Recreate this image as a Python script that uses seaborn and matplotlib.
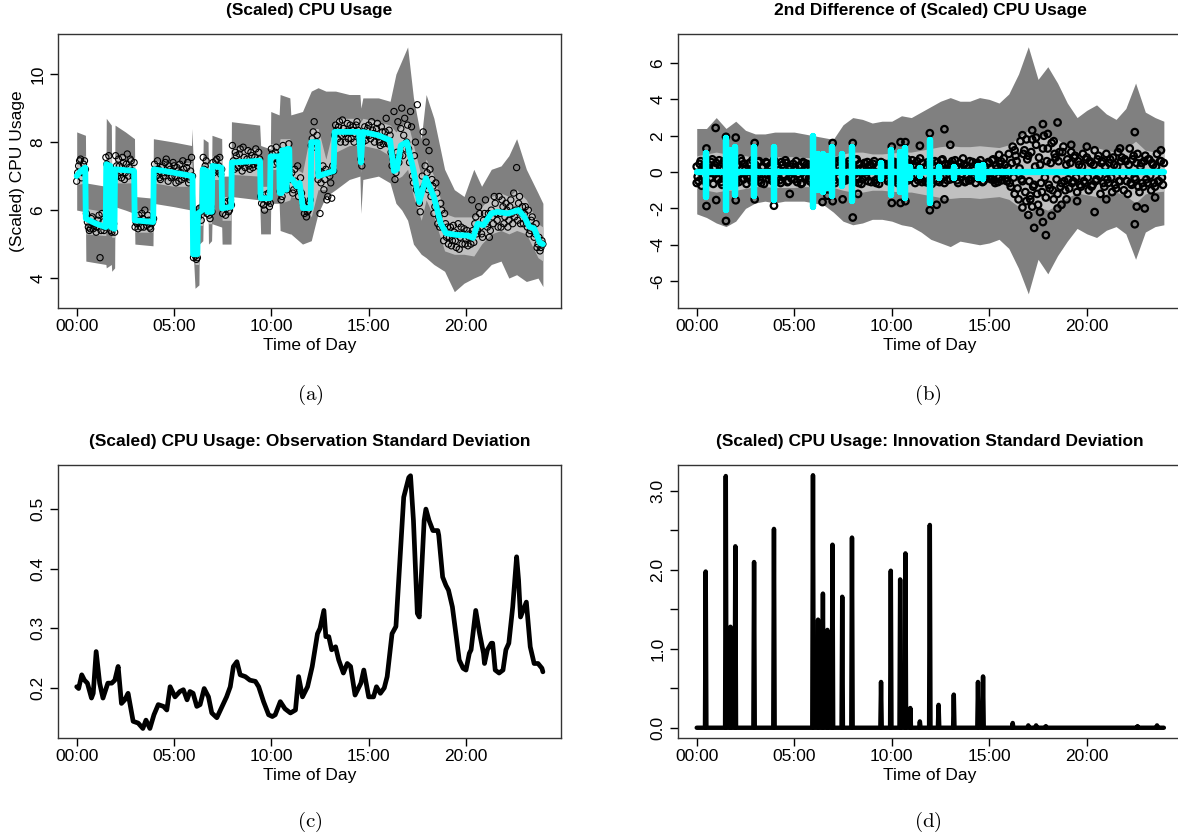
import numpy as np
import pandas as pd
import matplotlib
matplotlib.use("Agg")
import matplotlib.pyplot as plt
import seaborn as sns

# ---------------- (a) scaled CPU usage ----------------
obs_step = 0.1  # hours between plotted observations
# observations at 0.0, 0.1, 0.2, ...
cpu_obs = [
    6.85, 7.30, 7.50, 7.10, 7.45, 5.90, 5.50, 5.45, 5.80, 5.55,
    5.35, 5.70, 4.60, 5.90, 5.40, 7.55, 7.30, 7.15, 5.35, 5.60,
    7.60, 7.00, 7.30, 6.95, 7.40, 7.10, 7.65, 7.25, 7.45, 7.00,
    5.50, 5.60, 5.85, 5.50, 5.75, 6.00, 5.55, 5.70, 5.45, 5.65,
    7.35, 7.00, 7.20, 6.90, 7.30, 7.10, 7.50, 6.85, 7.20, 7.00,
    7.30, 6.80, 7.15, 7.35, 6.90, 7.20, 7.00, 7.40, 6.90, 7.55,
    4.60, 4.65, 4.60, 6.05, 5.70, 7.55, 7.30, 5.90, 5.85, 6.10,
    7.40, 7.20, 7.50, 7.30, 7.05, 5.90, 6.20, 6.05, 5.95, 6.30,
    7.90, 7.20, 7.60, 7.30, 7.80, 7.15, 7.55, 7.40, 7.75, 7.20,
    7.60, 7.35, 7.80, 7.30, 7.50, 6.20, 6.15, 6.45, 6.25, 6.10,
    7.80, 7.50, 7.70, 7.40, 7.60, 6.30, 7.90, 7.60, 6.60, 7.95,
    6.90, 6.50, 7.20, 6.70, 6.40, 6.95, 6.30, 5.90, 5.80, 6.00,
    6.30, 8.10, 8.60, 8.00, 6.90, 5.90, 7.10, 6.60, 7.20, 6.40,
    7.00, 6.35, 7.15, 8.50, 8.10, 8.60, 8.20, 8.40, 8.00, 8.55,
    8.30, 8.10, 8.45, 8.25, 8.60, 8.15, 7.50, 8.00, 8.45, 8.20,
    8.50, 8.10, 8.35, 8.00, 8.40, 8.15, 7.90, 8.30, 8.10, 8.70,
    7.95, 8.20, 7.30, 8.90, 7.10, 8.60, 7.60, 9.00, 8.20, 7.80,
    8.50, 7.40, 8.45, 6.80, 8.00, 9.10, 6.20, 6.60, 8.30, 7.30,
    7.10, 7.75, 6.40, 6.70, 6.10, 6.50, 5.80, 6.20, 5.50, 5.90,
    5.20, 5.00, 5.50, 5.10, 5.35, 4.90, 5.60, 5.20, 5.00, 5.45,
    5.15, 4.95, 5.30, 6.30, 5.05, 5.80, 5.40, 5.90, 5.30, 5.70,
    6.30, 5.50, 5.20, 6.00, 5.60, 6.20, 5.70, 6.40, 5.50, 6.10,
    5.80, 6.00, 5.70, 6.30, 5.60, 5.80, 7.25, 6.20, 5.60, 6.10,
    5.90, 5.70, 6.00, 5.40, 5.80, 5.20, 5.60, 5.00, 4.80, 5.10,
]
# observations at 0.05, 0.15, 0.25, ...
cpu_obs_mid = [
    7.10, 7.45, 6.95, 7.35, 7.20, 5.65, 5.40, 5.75, 5.45, 5.60,
    5.50, 5.85, 5.40, 5.65, 5.50, 7.35, 7.60, 5.40, 5.50, 5.35,
    7.30, 7.50, 7.10, 7.55, 6.90, 7.35, 7.00, 7.50, 7.15, 7.40,
    5.65, 5.45, 5.70, 5.90, 5.50, 5.65, 5.85, 5.50, 5.60, 5.75,
    7.15, 7.45, 6.95, 7.25, 7.00, 7.40, 7.10, 7.30, 6.95, 7.40,
    7.00, 7.25, 6.85, 7.10, 7.45, 6.95, 7.25, 6.80, 7.15, 7.00,
    4.70, 4.55, 5.80, 5.95, 6.10, 7.20, 7.45, 6.00, 5.75, 5.95,
    7.10, 7.45, 7.15, 7.55, 7.20, 6.10, 5.85, 6.25, 6.00, 6.15,
    7.45, 7.70, 7.25, 7.65, 7.35, 7.85, 7.25, 7.50, 7.30, 7.70,
    7.25, 7.55, 7.40, 7.70, 6.40, 6.35, 6.00, 6.30, 6.50, 6.20,
    7.65, 7.35, 7.85, 7.50, 6.55, 6.40, 7.70, 6.70, 7.70, 7.00,
    7.10, 6.60, 6.85, 7.30, 6.60, 6.50, 6.15, 6.10, 5.95, 6.20,
    7.90, 8.30, 7.85, 8.20, 7.10, 6.80, 7.30, 6.90, 6.30, 7.10,
    6.80, 7.30, 8.20, 8.35, 8.45, 8.00, 8.65, 8.25, 8.30, 8.10,
    8.50, 8.35, 8.00, 8.50, 8.35, 8.05, 7.30, 8.30, 8.05, 8.40,
    8.20, 8.60, 8.25, 8.20, 8.55, 8.00, 8.45, 7.95, 8.30, 8.00,
    8.35, 7.70, 7.50, 6.90, 7.70, 7.40, 8.40, 7.60, 8.70, 8.00,
    7.80, 8.90, 7.00, 7.60, 6.60, 6.50, 5.95, 7.00, 6.70, 8.00,
    6.60, 7.20, 6.90, 5.90, 6.80, 5.60, 5.50, 6.00, 5.10, 5.60,
    5.50, 5.20, 4.95, 5.55, 5.10, 5.30, 4.85, 5.50, 5.30, 5.00,
    5.40, 5.20, 5.00, 5.40, 5.60, 5.30, 6.10, 5.50, 5.20, 5.90,
    5.60, 5.90, 5.40, 5.80, 6.40, 5.90, 5.50, 5.90, 6.30, 5.60,
    6.20, 5.50, 6.10, 5.90, 6.50, 6.00, 5.70, 6.40, 5.90, 5.60,
    6.10, 5.50, 5.30, 5.70, 5.50, 5.30, 4.90, 5.20, 4.90, 5.00,
]

fit_hours = [0.00, 0.20, 0.44, 0.47, 1.00, 1.49, 1.52, 1.73, 1.76, 1.94, 1.97, 2.95,
             2.98, 3.93, 3.96, 5.00, 5.95, 5.98, 6.20, 6.23, 6.45, 6.48, 6.68, 6.71,
             6.94, 6.97, 7.44, 7.47, 7.94, 7.97, 9.42, 9.45, 9.93, 9.96, 10.40, 10.43,
             10.53, 10.56, 10.70, 10.73, 10.78, 10.81, 10.92, 10.95, 11.10, 11.30, 11.45,
             11.62, 12.02, 12.05, 12.38, 12.41, 13.20, 13.25, 14.50, 14.60, 14.70, 15.50,
             16.10, 16.30, 16.45, 16.65, 16.96, 17.30, 17.60, 17.94, 18.35, 18.70, 18.97,
             19.50, 20.10, 20.36, 20.60, 20.90, 21.30, 21.60, 22.15, 22.70, 23.00, 23.25,
             23.50, 23.80, 23.95]
fit_level = [7.00, 7.15, 7.25, 5.75, 5.60, 5.50, 7.35, 7.30, 5.50, 5.45, 7.20, 7.15,
             5.70, 5.65, 7.20, 7.10, 7.00, 4.70, 4.70, 5.90, 6.00, 7.20, 7.15, 5.95,
             5.95, 7.30, 7.25, 6.05, 6.10, 7.40, 7.45, 6.35, 6.35, 7.58, 7.58, 6.50,
             6.50, 7.76, 7.76, 6.60, 6.60, 7.80, 7.80, 6.90, 6.90, 6.70, 6.80,
             6.06, 6.06, 8.00, 8.00, 7.00, 7.15, 8.30, 8.30, 7.40, 8.30, 8.20,
             8.05, 7.15, 7.20, 7.90, 8.00, 7.18, 6.24, 6.94, 6.39, 5.61, 5.32,
             5.27, 5.25, 5.18, 5.60, 5.56, 5.90, 5.95, 5.90, 6.00, 5.80, 5.51,
             5.46, 5.03, 5.00]

band_hours = [0.00, 0.45, 0.47, 1.50, 1.52, 1.78, 1.80, 1.95, 1.97, 2.50, 2.97, 2.99,
              3.92, 3.94, 5.00, 5.90, 5.92, 6.08, 6.28, 6.30, 6.48, 6.50, 6.75, 6.77,
              6.93, 6.95, 7.45, 7.47, 7.93, 7.95, 9.40, 9.45, 9.95, 9.97, 10.40, 10.45,
              10.95, 11.00, 11.60, 12.05, 12.40, 12.80, 13.30, 14.00, 14.55, 14.60, 14.70,
              15.50, 16.10, 16.40, 16.70, 17.00, 17.30, 17.70, 17.95, 18.35, 18.90, 19.40,
              19.90, 20.40, 20.80, 21.30, 21.80, 22.20, 22.60, 23.10, 23.70, 23.95]
band_hi = [8.3, 8.2, 6.8, 6.7, 8.7, 8.5, 7.0, 7.0, 8.5, 8.3, 8.1, 6.4,
           6.35, 8.1, 8.0, 7.9, 8.4, 6.1, 6.2, 7.2, 7.1, 8.1, 8.0, 6.9,
           6.9, 8.2, 8.1, 7.0, 7.0, 8.6, 8.5, 7.9, 7.8, 8.9, 8.8, 9.4,
           9.3, 8.8, 8.9, 9.5, 9.6, 9.5, 9.5, 9.4, 9.4, 9.0, 9.3,
           9.3, 9.2, 10.0, 10.4, 10.8, 9.3, 8.1, 9.4, 8.7, 7.2, 6.6,
           6.4, 7.2, 6.7, 7.2, 7.3, 7.6, 8.1, 7.2, 6.5, 6.2]
band_lo = [6.0, 5.95, 4.5, 4.4, 4.3, 4.4, 4.2, 4.3, 6.1, 6.0, 5.9, 5.0,
           4.95, 6.2, 6.1, 6.0, 5.5, 3.7, 3.8, 5.0, 5.1, 5.8, 5.9, 5.0,
           5.1, 5.6, 5.5, 5.0, 5.0, 6.4, 6.3, 5.3, 5.3, 6.2, 6.2, 5.4,
           5.3, 5.3, 5.0, 5.1, 5.9, 6.4, 6.6, 6.9, 7.0, 5.9, 6.9,
           7.0, 6.8, 6.2, 6.0, 5.7, 5.0, 4.7, 4.6, 4.4, 4.2, 3.6,
           3.85, 4.0, 4.1, 4.4, 4.5, 4.0, 4.1, 3.9, 4.0, 3.75]
inner_hi = [7.5, 7.6, 6.05, 5.95, 7.65, 7.6, 5.8, 5.8, 7.6, 7.6, 7.55, 6.0,
            6.0, 7.45, 7.4, 7.4, 7.4, 5.0, 5.0, 6.2, 6.2, 7.55, 7.5, 6.3,
            6.3, 7.6, 7.55, 6.4, 6.4, 7.85, 7.8, 6.7, 6.7, 7.95, 7.95, 8.1,
            8.1, 7.3, 7.1, 8.4, 8.4, 7.5, 8.7, 8.7, 8.7, 8.6, 8.7,
            8.6, 8.5, 8.3, 8.5, 8.6, 7.9, 7.0, 7.5, 7.0, 5.9, 5.8,
            5.8, 5.8, 6.1, 6.4, 6.5, 6.4, 6.6, 6.3, 5.6, 5.5]
inner_lo = [6.75, 6.8, 5.3, 5.25, 7.0, 6.9, 5.2, 5.2, 6.8, 6.8, 6.8, 5.35,
            5.35, 6.8, 6.7, 6.7, 6.6, 4.4, 4.4, 5.55, 5.55, 6.85, 6.85, 5.6,
            5.6, 6.9, 6.9, 5.7, 5.7, 7.05, 7.0, 6.0, 6.0, 7.2, 7.2, 6.2,
            6.3, 6.4, 6.3, 5.8, 6.6, 6.6, 7.7, 7.9, 7.9, 7.1, 7.9,
            7.8, 7.6, 6.9, 7.0, 7.2, 6.4, 5.7, 6.3, 5.8, 4.8, 4.7,
            4.7, 4.65, 5.0, 5.3, 5.4, 5.3, 5.4, 5.3, 4.6, 4.5]

# ---------------- (b) 2nd difference ----------------
diff_core = [
    0.3, -0.5, 0.6, -0.2, 0.1, -0.6, 0.4, -0.3, 0.7, -0.1,
    0.5, -0.4, 0.2, -0.7, 0.6, 0.0, -0.5, 0.3, -0.2, 0.5,
    -0.6, 0.4, -0.1, 0.6, -0.4, 0.2, -0.3, 0.5, -0.5, 0.1,
    0.4, -0.2, 0.6, -0.6, 0.3, -0.1, 0.5, -0.4, 0.2, -0.5,
    0.6, -0.3, 0.1, -0.6, 0.4, -0.2, 0.5, -0.5, 0.3, 0.0,
    -0.4, 0.6, -0.1, 0.3, -0.6, 0.5, -0.3, 0.2, -0.5, 0.4,
    0.1, -0.6, 0.6, -0.2, 0.4, -0.5, 0.3, -0.1, 0.5, -0.4,
    0.2, -0.6, 0.6, -0.3, 0.1, -0.5, 0.4, -0.2, 0.6, -0.4,
    0.3, -0.1, 0.7, -0.6, 0.2, -0.4, 0.5, 0.0, -0.5, 0.4,
    -0.2, 0.6, -0.6, 0.3, -0.3, 0.5, -0.1, 0.4, -0.5, 0.2,
    0.6, -0.4, 0.1, -0.6, 0.5, -0.2, 0.3, -0.5, 0.7, -0.1,
    -0.3, 0.4, -0.6, 0.6, 0.0, -0.4, 0.5, -0.2, 0.3, -0.6,
    0.5, -0.1, 0.6, -0.5, 0.2, -0.3, 0.7, -0.6, 0.1, 0.4,
    -0.4, 0.6, -0.2, 0.3, -0.6, 0.5, -0.1, 0.4, -0.5, 0.2,
    0.6, -0.3, 0.1, -0.6, 0.5, -0.2, 0.4, -0.5, 0.3, -0.1,
    0.5, -0.4, 0.7, -0.6, 0.2, -0.3, 0.6, -0.1, 0.4, -0.5,
    1.0, -0.8, 1.4, -1.2, 0.6, -1.5, 1.7, -0.5, 1.2, -1.6,
    0.9, -1.3, 1.8, -0.7, 1.5, -1.8, 0.4, -1.1, 2.0, -1.4,
    1.3, -0.9, 1.6, -1.5, 0.8, -1.2, 1.1, -0.6, 1.4, -1.0,
    0.7, -0.9, 1.1, -0.5, 0.9, -1.1, 0.4, -0.8, 1.0, -0.6,
    0.8, -1.0, 0.5, -0.7, 1.2, -0.4, 0.9, -1.2, 0.6, -0.8,
    1.0, -0.6, 0.7, -1.1, 0.4, -0.9, 1.1, -0.5, 0.8, -1.0,
    0.6, -1.2, 1.3, -0.7, 0.9, -0.4, 1.0, -1.1, 0.5, -0.8,
    0.9, -0.6, 0.7, -1.0, 0.4, -0.8, 1.0, -0.5, 0.6, -0.7,
]
diff_core_mid = [
    -0.25, 0.45, -0.75, 0.35, -0.45, 0.15, -0.05, 0.55, -0.65, 0.25,
    -0.35, 0.65, -0.55, 0.15, -0.25, 0.45, 0.75, -0.65, 0.25, -0.45,
    0.35, -0.55, 0.75, -0.35, 0.45, -0.65, 0.05, -0.25, 0.65, -0.45,
    -0.35, 0.55, -0.45, 0.25, -0.65, 0.55, -0.15, 0.35, -0.45, 0.65,
    -0.55, 0.25, -0.45, 0.55, -0.15, 0.65, -0.55, 0.15, -0.35, 0.45,
    0.25, -0.55, 0.35, -0.65, 0.55, -0.25, 0.45, -0.35, 0.15, -0.65,
    0.45, -0.35, 0.25, -0.65, 0.65, -0.15, 0.35, -0.55, 0.15, 0.55,
    -0.45, 0.55, -0.25, 0.65, -0.55, 0.35, -0.45, 0.45, -0.15, 0.35,
    -0.55, 0.65, -0.35, 0.45, -0.65, 0.15, -0.25, 0.55, 0.35, -0.55,
    0.45, -0.45, 0.25, -0.65, 0.55, -0.15, 0.45, -0.35, 0.35, -0.55,
    -0.25, 0.55, -0.45, 0.35, -0.35, 0.65, -0.55, 0.25, -0.45, 0.45,
    0.65, -0.25, 0.35, -0.45, 0.75, -0.55, 0.25, -0.55, 0.55, 0.15,
    -0.65, 0.35, -0.35, 0.55, -0.55, 0.65, -0.25, 0.45, -0.45, 0.25,
    0.45, -0.35, 0.65, -0.45, 0.25, -0.25, 0.75, -0.55, 0.35, -0.45,
    -0.45, 0.55, -0.25, 0.45, -0.35, 0.65, -0.55, 0.25, -0.35, 0.55,
    -0.25, 0.65, -0.45, 0.35, -0.55, 0.45, -0.45, 0.75, -0.35, 0.25,
    -0.6, 0.5, -0.3, 0.9, -0.9, 0.2, -0.4, 1.0, -1.1, 0.7,
    -0.5, 1.1, -0.8, 0.3, -1.2, 0.8, -0.6, 1.3, -0.3, 0.6,
    -0.7, 0.5, -1.0, 1.0, -0.4, 0.6, -0.8, 1.1, -0.5, 0.4,
    -0.4, 0.5, -0.6, 0.8, -0.3, 0.6, -0.7, 0.3, -0.5, 0.7,
    -0.3, 0.6, -0.8, 0.4, -0.5, 0.7, -0.2, 0.5, -0.6, 0.3,
    -0.4, 0.5, -0.3, 0.8, -0.7, 0.3, -0.5, 0.6, -0.2, 0.7,
    -0.5, 0.4, -0.6, 0.7, -0.3, 0.5, -0.8, 0.3, -0.6, 0.6,
    -0.4, 0.7, -0.2, 0.5, -0.6, 0.3, -0.5, 0.6, -0.3, 0.5,
]
diff_out_hours = [0.00, 0.50, 0.50, 0.97, 1.00, 1.50, 1.50, 2.00, 2.00, 2.97, 2.97, 3.96,
                  4.77, 6.45, 6.70, 6.97, 6.97, 7.48, 8.00, 8.00, 8.27, 10.00, 10.00,
                  10.45, 10.45, 10.70, 10.70, 11.44, 11.95, 11.95, 12.30, 12.70, 12.70,
                  13.00, 15.50, 16.30, 16.70, 16.70, 16.90, 17.00, 17.10, 17.20, 17.20,
                  17.30, 17.40, 17.60, 17.75, 17.75, 17.90, 18.00, 18.20, 18.30, 18.50,
                  18.50, 18.70, 18.96, 19.20, 19.50, 20.00, 20.40, 21.00, 21.70, 22.46,
                  22.46, 22.56, 22.97, 23.50, 23.80]
diff_out = [-0.6, -1.87, 1.3, 2.43, -1.54, -2.69, 1.94, 1.9, -1.55, 1.6, -1.5, -1.85,
            -1.2, -1.65, -1.3, 1.6, -1.6, -1.5, 1.6, -2.5, -1.2, 1.4, -1.7,
            1.65, -1.7, 1.65, -1.6, 1.45, 2.14, -2.1, -1.8, 2.36, -1.5,
            1.5, 0.95, 1.2, 2.03, -1.95, 1.8, -2.36, -1.5, 2.3, -1.9,
            -3.07, 1.9, -2.2, 2.64, -2.75, -3.47, 2.1, -2.4, 1.7, 2.73,
            -2.0, -1.8, -1.5, 1.5, -1.6, 1.4, -2.2, -1.5, 1.3, 2.2,
            -2.87, -1.9, -2.0, -1.4, 1.2]

diff_band_hours = [0.0, 0.5, 1.0, 1.5, 2.0, 2.5, 3.0, 3.5, 4.0, 4.5, 5.0, 5.5, 6.0, 6.5,
                   7.0, 7.5, 8.0, 8.5, 9.0, 9.5, 10.0, 10.5, 11.0, 11.5, 12.0, 12.5, 13.0,
                   13.5, 14.0, 14.5, 15.0, 15.5, 16.0, 16.5, 17.0, 17.5, 18.0, 18.5, 19.0,
                   19.5, 20.0, 20.5, 21.0, 21.5, 22.0, 22.5, 23.0, 23.5, 23.95]
diff_band_hi = [2.4, 2.4, 3.0, 2.4, 2.8, 2.3, 2.1, 2.1, 2.2, 2.2, 2.2, 2.1, 2.0, 1.9,
                1.8, 2.6, 3.0, 2.9, 2.7, 2.8, 2.8, 3.1, 3.0, 3.3, 3.6, 3.9, 4.1,
                3.9, 3.9, 4.1, 4.0, 3.8, 4.3, 5.4, 6.9, 5.1, 5.8, 4.9, 3.8,
                3.0, 3.4, 3.7, 3.2, 2.9, 3.5, 4.9, 3.3, 3.0, 2.8]
diff_band_lo = [-2.3, -2.5, -2.8, -3.0, -2.7, -2.0, -1.7, -1.6, -1.7, -1.6, -1.6, -1.6, -1.7, -1.8,
                -2.2, -2.7, -2.9, -2.8, -2.6, -2.6, -2.7, -2.9, -3.0, -3.3, -3.7, -3.9, -4.1,
                -3.8, -3.9, -4.0, -3.9, -3.7, -4.2, -5.3, -6.7, -4.8, -5.6, -4.6, -3.8,
                -3.1, -3.4, -3.6, -3.2, -3.0, -3.4, -4.8, -3.3, -3.0, -2.9]
diff_inner = [0.9, 1.0, 1.1, 1.0, 1.0, 0.9, 0.8, 0.8, 0.85, 0.85, 0.85, 0.8, 0.8, 0.8,
              0.85, 1.0, 1.1, 1.1, 1.0, 1.0, 1.05, 1.1, 1.1, 1.2, 1.3, 1.4, 1.45,
              1.4, 1.4, 1.45, 1.4, 1.35, 1.5, 1.9, 2.3, 1.9, 2.1, 1.8, 1.4,
              1.15, 1.25, 1.35, 1.2, 1.1, 1.3, 1.7, 1.2, 1.1, 1.05]

# level shifts of the fitted mean: spikes of the 2nd difference and innovation sd
jump_hours = [0.46, 1.49, 1.73, 1.98, 2.94, 3.96, 5.96, 6.22, 6.47, 6.70, 6.96, 7.46,
              7.96, 9.45, 9.95, 10.43, 10.70, 10.95, 11.44, 11.95, 12.40, 13.18, 14.42, 14.68]
jump_up = [1.03, 1.85, 1.2, 1.4, 1.4, 1.4, 2.0, 1.0, 1.0, 0.9, 1.4, 1.0,
           1.4, 0.5, 1.2, 1.1, 1.3, 0.3, 0.2, 1.75, 0.3, 0.3, 0.35, 0.4]
jump_down = [-1.35, -2.1, -0.8, -1.25, -1.3, -1.55, -1.9, -1.0, -1.1, -0.9, -1.3, -0.75,
             -1.6, -0.4, -1.25, -1.1, -1.4, -0.3, -0.2, -1.7, -0.3, -0.3, -0.35, -0.4]
innov_sd = [1.98, 3.19, 1.28, 2.30, 2.10, 2.52, 3.20, 1.37, 1.70, 1.24, 2.32, 1.66,
            2.41, 0.58, 1.99, 1.88, 2.21, 0.25, 0.08, 2.57, 0.29, 0.42, 0.58, 0.65]
small_hours = [16.20, 17.00, 17.40, 17.90, 22.60, 23.60]
small_sd = [0.06, 0.03, 0.03, 0.02, 0.02, 0.03]
day_end = 23.95

# ---------------- (c) observation sd ----------------
obs_sd_hours = [0.0, 0.1, 0.26, 0.4, 0.55, 0.76, 0.85, 1.0, 1.18, 1.35, 1.6, 1.8, 1.96, 2.13,
                2.3, 2.47, 2.64, 2.9, 3.16, 3.4, 3.56, 3.76, 3.97, 4.19, 4.46, 4.63, 4.8,
                5.05, 5.3, 5.48, 5.67, 5.82, 5.98, 6.17, 6.34, 6.55, 6.77, 6.94, 7.2, 7.47,
                7.7, 7.89, 8.05, 8.23, 8.4, 8.66, 8.9, 9.18, 9.35, 9.6, 9.86, 10.05, 10.2,
                10.46, 10.7, 10.98, 11.24, 11.4, 11.6, 11.86, 12.1, 12.37, 12.5, 12.7, 12.8,
                12.95, 13.1, 13.3, 13.46, 13.7, 13.9, 14.07, 14.3, 14.6, 14.75, 15.0, 15.25,
                15.4, 15.6, 15.8, 15.95, 16.2, 16.4, 16.8, 17.06, 17.15, 17.3, 17.5, 17.6,
                17.85, 17.94, 18.1, 18.3, 18.55, 18.6, 18.8, 18.97, 19.1, 19.3, 19.5, 19.65,
                19.85, 20.0, 20.17, 20.26, 20.5, 20.7, 20.9, 20.95, 21.1, 21.3, 21.37, 21.5,
                21.7, 21.9, 22.05, 22.2, 22.4, 22.6, 22.7, 22.8, 23.0, 23.1, 23.3, 23.5,
                23.7, 23.9, 23.95]
obs_sd = [0.202, 0.199, 0.222, 0.213, 0.208, 0.183, 0.191, 0.261, 0.208, 0.183, 0.208, 0.208,
          0.213, 0.236, 0.174, 0.180, 0.191, 0.144, 0.141, 0.132, 0.146, 0.132, 0.155, 0.172,
          0.169, 0.163, 0.202, 0.185, 0.194, 0.197, 0.180, 0.194, 0.191, 0.169, 0.172, 0.199,
          0.185, 0.158, 0.150, 0.169, 0.185, 0.202, 0.236, 0.244, 0.222, 0.219, 0.213, 0.211,
          0.202, 0.177, 0.155, 0.152, 0.155, 0.177, 0.165, 0.158, 0.163, 0.219, 0.185, 0.202,
          0.236, 0.291, 0.300, 0.330, 0.286, 0.286, 0.264, 0.269, 0.247, 0.225, 0.241, 0.236,
          0.188, 0.208, 0.230, 0.185, 0.185, 0.202, 0.191, 0.200, 0.219, 0.291, 0.303, 0.520,
          0.553, 0.556, 0.481, 0.325, 0.319, 0.481, 0.500, 0.481, 0.464, 0.464, 0.456, 0.386,
          0.372, 0.364, 0.336, 0.286, 0.247, 0.233, 0.230, 0.258, 0.264, 0.330, 0.291, 0.258,
          0.241, 0.264, 0.275, 0.275, 0.230, 0.225, 0.230, 0.264, 0.275, 0.336, 0.420, 0.381,
          0.319, 0.336, 0.344, 0.269, 0.241, 0.241, 0.233, 0.227]

xtick_hours = [0, 5, 10, 15, 20]
xtick_labels = ["00:00", "05:00", "10:00", "15:00", "20:00"]

# ---------------- data frames ----------------
grid = np.arange(len(cpu_obs)) * obs_step
obs_df = pd.DataFrame({"hour": np.concatenate([grid, grid + obs_step / 2]),
                       "cpu": cpu_obs + cpu_obs_mid})
fit_df = pd.DataFrame({"hour": fit_hours, "cpu": fit_level})
core_df = pd.DataFrame({"hour": np.concatenate([grid, grid + obs_step / 2]),
                        "d2": diff_core + diff_core_mid})
out_df = pd.DataFrame({"hour": diff_out_hours, "d2": diff_out})

d2_rows = [(0.0, 0.0)]
for h, u, d in zip(jump_hours, jump_up, jump_down):
    d2_rows += [(h, 0.0), (h, u), (h, d), (h, 0.0)]
d2_rows.append((day_end, 0.0))
d2_fit_df = pd.DataFrame(d2_rows, columns=["hour", "d2"])

half_w = 0.035
sd_rows = [(0.0, 0.0)]
for h, p in sorted(zip(jump_hours + small_hours, innov_sd + small_sd)):
    sd_rows += [(h - half_w, 0.0), (h, p), (h + half_w, 0.0)]
sd_rows.append((day_end, 0.0))
innov_df = pd.DataFrame(sd_rows, columns=["hour", "sd"])
obs_sd_df = pd.DataFrame({"hour": obs_sd_hours, "sd": obs_sd})

# ---------------- figure ----------------
sns.set_theme(style="ticks")
plt.rcParams["font.family"] = ["Liberation Sans", "DejaVu Sans"]
plt.rcParams["axes.unicode_minus"] = False
plt.rcParams["mathtext.fontset"] = "cm"
for key in ("text.color", "axes.labelcolor", "xtick.color", "ytick.color"):
    plt.rcParams[key] = "black"

W, H = 1178, 838
fig = plt.figure(figsize=(W / 100, H / 100), dpi=100)


def px_axes(left, top, right, bottom):
    return fig.add_axes([left / W, 1 - bottom / H, (right - left) / W, (bottom - top) / H])


ax_a = px_axes(58, 34, 561, 308)
ax_b = px_axes(678, 34, 1182, 308)
ax_c = px_axes(58, 465, 561, 738)
ax_d = px_axes(678, 465, 1182, 738)

dark, light = "#808080", "#c0c0c0"
fs = 12.5

# (a)
ax_a.fill_between(band_hours, band_lo, band_hi, color=dark, lw=0, zorder=1)
ax_a.fill_between(band_hours, inner_lo, inner_hi, color=light, lw=0, zorder=2)
sns.scatterplot(data=obs_df, x="hour", y="cpu", ax=ax_a, marker="o", s=20,
                facecolor="none", edgecolor="black", linewidth=0.8, zorder=3)
sns.lineplot(data=fit_df, x="hour", y="cpu", ax=ax_a, color="cyan", lw=4.2,
             sort=False, estimator=None, zorder=4)
ax_a.set_ylim(3.12, 11.18)
ax_a.set_yticks([4, 6, 8, 10])
ax_a.set_title("(Scaled) CPU Usage", fontsize=fs, fontweight="bold", pad=14)
ax_a.set_ylabel("(Scaled) CPU Usage", fontsize=fs, labelpad=4)

# (b)
ax_b.fill_between(diff_band_hours, diff_band_lo, diff_band_hi, color=dark, lw=0, zorder=1)
ax_b.fill_between(diff_band_hours, [-v for v in diff_inner], diff_inner, color=light, lw=0, zorder=2)
sns.scatterplot(data=core_df, x="hour", y="d2", ax=ax_b, marker="o", s=22,
                facecolor="none", edgecolor="black", linewidth=1.6, zorder=3)
sns.scatterplot(data=out_df, x="hour", y="d2", ax=ax_b, marker="o", s=22,
                facecolor="none", edgecolor="black", linewidth=1.6, zorder=3)
sns.lineplot(data=d2_fit_df, x="hour", y="d2", ax=ax_b, color="cyan", lw=4.5,
             sort=False, estimator=None, zorder=4)
ax_b.set_ylim(-7.48, 7.6)
ax_b.set_yticks([-6, -4, -2, 0, 2, 4, 6])
ax_b.set_title("2nd Difference of (Scaled) CPU Usage", fontsize=fs, fontweight="bold", pad=14)

# (c)
sns.lineplot(data=obs_sd_df, x="hour", y="sd", ax=ax_c, color="black", lw=3.4,
             sort=False, estimator=None, solid_capstyle="round", solid_joinstyle="round")
ax_c.set_ylim(0.116, 0.574)
ax_c.set_yticks([0.2, 0.3, 0.4, 0.5])
ax_c.set_yticklabels(["0.2", "0.3", "0.4", "0.5"])
ax_c.set_title("(Scaled) CPU Usage: Observation Standard Deviation", fontsize=fs,
               fontweight="bold", pad=14)

# (d)
sns.lineplot(data=innov_df, x="hour", y="sd", ax=ax_d, color="black", lw=3.2,
             sort=False, estimator=None, solid_capstyle="round", solid_joinstyle="round")
ax_d.set_ylim(-0.13, 3.33)
ax_d.set_yticks([0, 0.5, 1, 1.5, 2, 2.5, 3])
ax_d.set_yticklabels(["0.0", "", "1.0", "", "2.0", "", "3.0"])
ax_d.set_title("(Scaled) CPU Usage: Innovation Standard Deviation", fontsize=fs,
               fontweight="bold", pad=14)

for ax in (ax_a, ax_b, ax_c, ax_d):
    ax.set_xlim(-0.96, 24.88)
    ax.set_xticks(xtick_hours)
    ax.set_xticklabels(xtick_labels)
    ax.set_xlabel("Time of Day", fontsize=fs, labelpad=3)
    if ax is not ax_a:
        ax.set_ylabel("")
    ax.tick_params(axis="both", direction="out", length=6, width=1, color="black",
                   labelsize=fs, pad=2)
    ax.tick_params(axis="y", labelrotation=90, pad=3)
    for lbl in ax.get_yticklabels():
        lbl.set_va("center")
    for sp in ax.spines.values():
        sp.set_visible(True)
        sp.set_color("#333333")
        sp.set_linewidth(1.0)
    ax.grid(False)
    ax.set_facecolor("white")

for txt, x, y in [("(a)", 310, 395), ("(b)", 928, 395), ("(c)", 310, 822), ("(d)", 928, 822)]:
    fig.text(x / W, 1 - y / H, r"$\mathrm{" + txt + "}$", fontsize=15, ha="center", va="center")

fig.savefig("out.png", dpi=100)
